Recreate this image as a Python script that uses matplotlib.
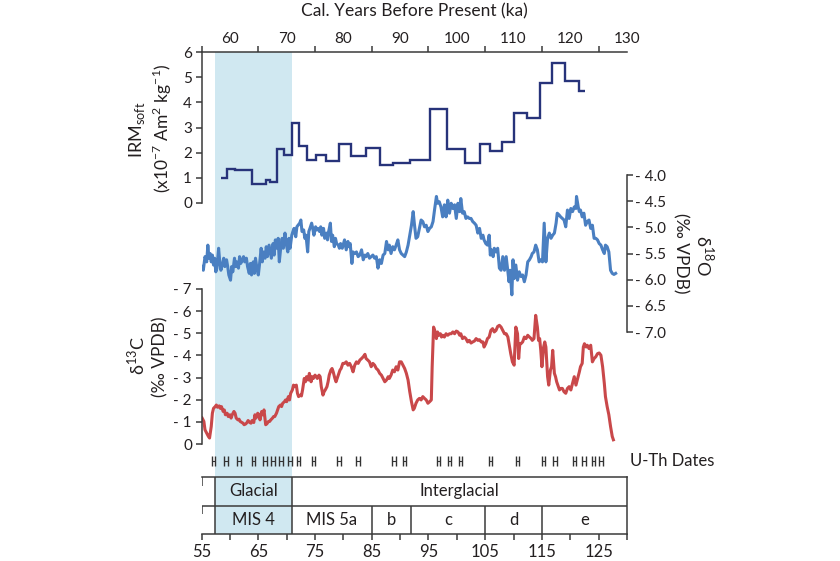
import matplotlib
matplotlib.use("Agg")
import matplotlib.pyplot as plt

plt.rcParams["font.family"] = ["Lato", "DejaVu Sans"]
plt.rcParams["mathtext.fontset"] = "custom"
plt.rcParams["mathtext.rm"] = "Lato"

TEXT = "#231f20"
AXIS = "#3a3a3a"
SHADE = "#d0e8f1"
NAVY = "#27337a"
BLUE = "#4a7fc1"
RED = "#c9484a"

# glacial shading (ka)
GLACIAL = (57.4, 70.9)

# IRM soft, step series: bin edges (ka) and values (x10^-7 Am2 kg-1)
IRM_EDGES = [58.5, 59.5, 60.9, 62.4, 63.9, 66.3, 67.0, 68.3, 69.6, 70.9, 72.1,
             73.5, 75.1, 77.0, 79.2, 81.4, 83.9, 86.5, 88.8, 91.8, 95.2, 98.3,
             101.5, 104.0, 105.8, 107.9, 110.0, 112.3, 114.6, 116.7, 119.1,
             121.6, 122.6]
IRM_VALUES = [1.01, 1.37, 1.33, 1.30, 0.77, 0.90, 0.84, 2.16, 1.90, 3.17, 2.26,
              1.70, 1.89, 1.65, 2.34, 1.85, 2.17, 1.52, 1.57, 1.72, 3.72, 2.13,
              1.58, 2.33, 2.06, 2.42, 3.57, 3.39, 4.76, 5.56, 4.83, 4.47]

# d18O (permil VPDB)
D18O_AGE = [55.0, 55.3, 55.6, 55.9, 56.1, 56.3, 56.5, 56.7, 56.9, 57.1, 57.3,
            57.5, 57.7, 58.0, 58.2, 58.4, 58.7, 58.9, 59.1, 59.4, 59.6, 59.8,
            60.1, 60.3, 60.5, 60.8, 61.0, 61.2, 61.5, 61.7, 61.9, 62.2, 62.4,
            62.6, 62.9, 63.1, 63.4, 63.6, 63.8, 64.1, 64.3, 64.5, 64.8, 65.0,
            65.2, 65.5, 65.7, 65.9, 66.2, 66.4, 66.6, 66.9, 67.1, 67.3, 67.6,
            67.8, 68.0, 68.3, 68.5, 68.7, 69.0, 69.2, 69.4, 69.7, 69.9, 70.2,
            70.4, 70.6, 70.9, 71.1, 71.3, 71.6, 71.8, 72.0, 72.3, 72.5, 72.7,
            73.0, 73.2, 73.4, 73.7, 73.9, 74.1, 74.4, 74.6, 74.8, 75.1, 75.3,
            75.5, 75.8, 76.0, 76.2, 76.5, 76.7, 77.0, 77.2, 77.4, 77.7, 77.9,
            78.1, 78.4, 78.6, 78.8, 79.1, 79.3, 79.5, 79.8,
            80.2, 80.5, 80.8, 81.0, 81.2, 81.5, 81.7, 82.0, 82.3, 82.6, 82.9,
            83.2, 83.5, 83.8, 84.0, 84.3, 84.6, 84.9, 85.2, 85.5, 85.8, 86.1,
            86.4, 86.7, 87.0, 87.3, 87.6, 87.9, 88.1, 88.4, 88.7, 89.0, 89.3,
            89.6, 89.9, 90.2, 90.5, 90.8, 91.1, 91.4, 91.7, 92.0, 92.3, 92.5,
            92.8, 93.1, 93.4, 93.7, 94.0, 94.3, 94.6, 94.9, 95.2, 95.5, 95.8,
            96.1, 96.4, 96.6, 96.9, 97.2, 97.5, 97.8, 98.1, 98.4, 98.7, 99.0,
            99.3, 99.6, 99.9, 100.2, 100.5, 100.7, 101.0, 101.3, 101.6, 101.9,
            102.2, 102.5, 102.8, 103.1, 103.4, 103.7, 104.0, 104.3, 104.6,
            104.8, 105.1, 105.4,
            105.7, 105.9, 106.1, 106.4, 106.6, 106.9, 107.2, 107.5, 107.8,
            108.1, 108.4, 108.7, 109.0, 109.2, 109.4, 109.7, 109.9, 110.1,
            110.4, 110.7, 111.0, 111.3, 111.6, 111.9, 112.2, 112.5, 112.8,
            113.1, 113.3, 113.6, 113.9, 114.2, 114.5, 114.8, 115.1, 115.4,
            115.7, 116.0, 116.3, 116.6, 116.9, 117.2, 117.5, 117.7, 118.0,
            118.3, 118.6, 118.9, 119.2, 119.5, 119.8, 120.1, 120.4, 120.7,
            121.0, 121.1, 121.4, 121.6, 121.8, 122.1, 122.4, 122.7, 123.0,
            123.3, 123.6, 123.9, 124.2, 124.5, 124.8, 125.1, 125.4, 125.7,
            126.0, 126.2, 126.5, 126.8, 127.1, 127.4, 127.7, 128.0]
D18O = [-5.75, -5.82, -5.56, -5.66, -5.34, -5.59, -5.50, -5.66, -5.53, -5.72, -5.59,
        -5.85, -5.78, -5.40, -5.66, -5.82, -5.69, -5.59, -5.75, -5.62, -5.75, -5.91,
        -6.01, -5.75, -5.85, -5.59, -5.75, -5.66, -5.78, -5.56, -5.69, -5.62, -5.56,
        -5.66, -5.59, -5.75, -5.88, -5.69, -5.91, -5.66, -5.88, -5.59, -5.82, -5.91,
        -5.72, -5.40, -5.66, -5.47, -5.59, -5.37, -5.56, -5.34, -5.47, -5.59, -5.31,
        -5.53, -5.24, -5.40, -5.21, -5.66, -5.34, -5.21, -5.40, -5.11, -5.31, -5.47,
        -5.21, -5.40, -5.15, -5.08, -5.02, -5.18, -4.99, -4.96, -4.92, -4.86, -5.08,
        -5.05, -5.21, -5.15, -5.47, -5.08, -5.02, -4.92, -5.02, -5.15, -4.99, -5.05,
        -5.02, -5.08, -4.99, -5.15, -5.02, -5.21, -5.11, -5.24, -5.08, -4.92, -5.27,
        -5.15, -5.37, -5.21, -5.31, -5.34, -5.40, -5.31, -5.40,
        -5.24, -5.43, -5.27, -5.37, -5.31, -5.69, -5.47, -5.50, -5.47, -5.56, -5.53,
        -5.43, -5.62, -5.53, -5.56, -5.50, -5.59, -5.56, -5.53, -5.59, -5.56, -5.78,
        -5.62, -5.69, -5.53, -5.50, -5.27, -5.43, -5.34, -5.50, -5.37, -5.43, -5.34,
        -5.24, -5.43, -5.50, -5.53, -5.56, -5.47, -5.34, -5.15, -4.96, -4.70, -4.92,
        -5.21, -5.18, -5.02, -4.86, -4.89, -4.99, -4.96, -5.08, -5.02, -4.99, -4.89,
        -4.64, -4.41, -4.54, -4.51, -4.61, -4.80, -4.57, -4.80, -4.48, -4.73, -4.54,
        -4.64, -4.57, -4.83, -4.54, -4.70, -4.45, -4.73, -4.70, -4.83, -4.80,
        -4.83, -4.83, -4.89, -4.92, -4.96, -5.11, -5.02, -5.21, -5.15,
        -5.24, -5.31, -5.34,
        -5.15, -5.53, -5.43, -5.56, -5.40, -5.47, -5.40, -5.78, -5.82,
        -5.56, -5.82, -5.56, -5.85, -6.04, -5.82, -6.29, -5.62, -5.98,
        -5.72, -6.01, -5.85, -5.94, -5.91, -6.04, -5.91, -5.66, -5.62,
        -5.56, -5.50, -5.47, -5.34, -5.43, -5.66, -5.62, -5.66, -4.92,
        -5.66, -5.21, -5.11, -5.21, -5.15, -5.11, -4.92, -4.73, -4.76,
        -4.80, -4.83, -4.86, -4.99, -4.67, -4.83, -4.64, -4.70, -4.61,
        -4.64, -4.41, -4.61, -4.70, -4.67, -4.80, -4.73, -4.96, -4.89,
        -4.86, -5.02, -4.96, -5.21, -5.21, -5.24, -5.31, -5.34, -5.43,
        -5.50, -5.34, -5.37, -5.47, -5.82, -5.88, -5.90, -5.88]

# d13C (permil VPDB)
D13C_AGE = [55.1, 55.4, 55.6, 55.9, 56.2, 56.4, 56.7, 56.9, 57.1, 57.4, 57.6,
            57.8, 58.1, 58.3, 58.5, 58.8, 59.0, 59.2, 59.5, 59.7, 60.0, 60.2,
            60.4, 60.7, 60.9, 61.1, 61.4, 61.6, 61.8, 62.1, 62.3, 62.5, 62.8,
            63.0, 63.2, 63.5, 63.7, 63.9, 64.2, 64.4, 64.6, 64.9, 65.1, 65.3,
            65.6, 65.8, 66.0, 66.3, 66.5, 66.8, 67.0, 67.2, 67.5, 67.7, 67.9,
            68.2, 68.4, 68.6, 68.9, 69.1, 69.3, 69.6, 69.8, 70.0, 70.3, 70.5,
            70.7, 71.0, 71.2, 71.4, 71.7, 71.9, 72.1, 72.4, 72.6, 72.8, 73.1,
            73.3, 73.5, 73.8, 74.0, 74.3, 74.5, 74.7, 75.0, 75.2, 75.4, 75.7,
            75.9, 76.1, 76.4, 76.6, 76.8, 77.1, 77.3, 77.5, 77.8, 78.0, 78.2,
            78.5, 78.7, 79.0, 79.2, 79.4, 79.6, 79.9,
            80.2, 80.5, 80.8, 81.1, 81.4, 81.7, 82.0, 82.3, 82.6, 82.9, 83.2,
            83.5, 83.8, 84.0, 84.3, 84.6, 84.9, 85.2, 85.5, 85.8, 86.1, 86.4,
            86.7, 87.0, 87.3, 87.6, 87.9, 88.1, 88.4, 88.7, 89.0, 89.3, 89.6,
            89.9, 90.2, 90.5, 90.8, 91.1, 91.4, 91.7, 92.0, 92.3, 92.5, 92.8,
            93.1, 93.4, 93.7, 94.0, 94.3, 94.6, 94.9, 95.2, 95.5, 95.65, 95.9,
            96.1, 96.4, 96.6, 96.8, 97.1, 97.3, 97.5, 97.8, 98.1, 98.4, 98.7,
            99.0, 99.3, 99.6, 99.9, 100.2, 100.5, 100.7, 101.0, 101.3, 101.6,
            101.9, 102.2, 102.5, 102.8, 103.1, 103.4, 103.7, 104.0, 104.3,
            104.6, 104.8, 105.1, 105.4, 105.7,
            106.0, 106.3, 106.6, 106.9, 107.2, 107.5, 107.8, 108.1, 108.4,
            108.7, 109.0, 109.2, 109.5, 109.8, 110.1, 110.4, 110.7, 110.9,
            111.1, 111.3, 111.6, 111.9, 112.2, 112.5, 112.8, 113.1, 113.3,
            113.6, 113.9, 114.2, 114.4, 114.6, 114.8, 115.0, 115.3, 115.5,
            115.7, 116.0, 116.2, 116.5, 116.7, 116.9, 117.2, 117.4, 117.6,
            117.9, 118.1, 118.3, 118.6, 118.9, 119.2, 119.5, 119.8, 120.1,
            120.4, 120.7, 121.0, 121.3, 121.6, 121.8, 122.1, 122.3, 122.5,
            122.8, 123.0, 123.3, 123.6, 123.9, 124.2, 124.5, 124.8, 125.1,
            125.4, 125.7, 126.0, 126.2, 126.5, 126.8, 127.1, 127.4, 127.6]
D13C = [-1.17, -1.02, -0.64, -0.49, -0.34, -0.27, -0.79, -1.39, -1.61, -1.69, -1.76,
        -1.66, -1.72, -1.61, -1.69, -1.47, -1.54, -1.32, -1.39, -1.24, -1.32, -1.17,
        -1.32, -1.47, -1.39, -1.17, -1.09, -1.12, -1.02, -0.97, -0.94, -0.87, -0.91,
        -0.97, -1.06, -0.97, -0.94, -1.06, -0.97, -1.32, -1.17, -1.39, -1.32, -1.09,
        -1.47, -1.32, -1.54, -0.87, -0.91, -1.02, -1.02, -1.09, -1.17, -1.24, -1.24,
        -1.39, -1.54, -1.69, -1.76, -1.69, -1.84, -1.91, -1.99, -1.91, -2.14, -1.99,
        -2.29, -2.44, -2.66, -2.59, -2.66, -2.29, -2.14, -2.21, -2.17, -2.44, -2.96,
        -2.81, -3.04, -2.89, -3.19, -2.81, -3.04, -2.96, -3.11, -3.04, -2.96, -3.11,
        -3.04, -2.59, -2.21, -2.36, -2.44, -2.59, -2.81, -3.11, -3.34, -3.41, -3.26,
        -2.96, -2.81, -3.04, -3.19, -3.34, -3.41, -3.64,
        -3.64, -3.71, -3.56, -3.64, -3.49, -3.26, -3.56, -3.71, -3.64, -3.79, -3.86,
        -3.94, -4.05, -3.86, -3.79, -3.71, -3.49, -3.64, -3.56, -3.41, -3.34, -3.19,
        -3.11, -2.96, -2.81, -2.89, -3.04, -2.96, -3.11, -3.34, -3.26, -3.49, -3.34,
        -3.71, -3.71, -3.56, -3.41, -3.19, -2.89, -2.36, -1.91, -1.54, -1.61, -1.84,
        -1.99, -2.06, -1.99, -2.14, -2.06, -1.99, -1.84, -1.91, -1.99, -3.49, -5.28,
        -5.13, -4.76, -5.06, -4.91, -4.98, -4.83, -4.91, -4.83, -4.98, -4.91, -4.98,
        -4.98, -5.06, -4.98, -5.10, -5.06, -4.91, -4.98, -4.76, -4.83, -4.76,
        -4.61, -4.68, -4.56, -4.61, -4.65, -4.76, -4.68, -4.71, -4.61,
        -4.61, -4.38, -4.53, -4.76, -4.83,
        -5.13, -5.21, -5.06, -5.13, -5.31, -5.36, -5.28, -5.13, -4.98,
        -4.98, -4.83, -4.53, -4.08, -3.71, -3.56, -5.28, -4.98, -3.86,
        -4.53, -4.53, -4.61, -4.83, -4.76, -4.91, -4.83, -4.76, -4.68,
        -4.76, -5.81, -5.28, -4.68, -4.76, -4.23, -3.49, -4.38, -4.61,
        -4.38, -3.04, -2.66, -3.34, -3.49, -4.23, -3.19, -3.04, -2.81,
        -2.59, -2.44, -2.51, -2.51, -2.36, -2.29, -2.51, -2.59, -2.44,
        -2.74, -3.04, -2.66, -2.96, -3.26, -3.49, -3.64, -4.38, -4.53,
        -4.38, -4.46, -4.31, -4.46, -3.71, -3.86, -3.94, -4.08, -4.11,
        -4.01, -3.49, -2.74, -2.14, -1.69, -1.32, -0.79, -0.34, -0.19]

# U-Th dated horizons (ka)
UTH_AGES = [57.1, 59.3, 61.6, 64.1, 66.2, 67.6, 69.0, 70.6, 72.1, 74.7, 79.2,
            82.6, 88.9, 90.8, 96.8, 98.7, 100.6, 105.9, 110.7, 115.3, 117.3,
            120.7, 122.4, 124.1, 125.4]

# stage table
STAGE_TOP = [("Glacial", 57.4, 70.9), ("Interglacial", 70.9, 130.0)]
STAGE_BOTTOM = [("MIS 4", 57.4, 70.9), ("MIS 5a", 70.9, 85.0), ("b", 85.0, 92.0),
                ("c", 92.0, 105.0), ("d", 105.0, 115.0), ("e", 115.0, 130.0)]

W, H = 840, 561
X0, X1 = 201.6, 627.0
XLIM = (55, 130)


def box(x0, y0, x1, y1):
    return [x0 / W, 1 - y1 / H, (x1 - x0) / W, (y1 - y0) / H]


def only_spines(ax, keep):
    for name, sp in ax.spines.items():
        sp.set_visible(name in keep)
        sp.set_color(AXIS)
        sp.set_linewidth(1.1)


fig = plt.figure(figsize=(W / 100, H / 100), dpi=100)
fig.patch.set_facecolor("white")

# background shading spanning all panels
bg = fig.add_axes(box(X0, 52, X1, 534))
bg.axvspan(*GLACIAL, color=SHADE, lw=0)
bg.set_xlim(*XLIM)
bg.axis("off")

# IRM panel
ax_irm = fig.add_axes(box(X0, 52, X1, 203), facecolor="none")
ax_irm.stairs(IRM_VALUES, IRM_EDGES, baseline=None, color=NAVY, lw=1.7)
ax_irm.set_xlim(*XLIM)
ax_irm.set_ylim(0, 6)
only_spines(ax_irm, ["left", "top"])
ax_irm.xaxis.tick_top()
ax_irm.set_xticks(range(60, 131, 10))
ax_irm.set_xticks(range(55, 126, 10), minor=True)
ax_irm.tick_params(axis="x", which="major", length=0, pad=4, labelsize=11, colors=TEXT)
ax_irm.tick_params(axis="x", which="minor", length=4, width=1.1, color=AXIS, direction="out")
ax_irm.set_yticks(range(0, 7))
ax_irm.tick_params(axis="y", length=4, width=1.1, color=AXIS, pad=3, labelsize=11, labelcolor=TEXT)

# d18O panel
ax_o = fig.add_axes(box(X0, 175, X1, 332), facecolor="none")
ax_o.plot(D18O_AGE, D18O, color=BLUE, lw=2.2, solid_joinstyle="round")
ax_o.set_xlim(*XLIM)
ax_o.set_ylim(-7, -4)
only_spines(ax_o, ["right"])
ax_o.set_xticks([])
ax_o.yaxis.tick_right()
o_ticks = [-7.0, -6.5, -6.0, -5.5, -5.0, -4.5, -4.0]
ax_o.set_yticks(o_ticks)
ax_o.set_yticklabels([f"- {abs(t):.1f}" for t in o_ticks])
ax_o.tick_params(axis="y", length=4, width=1.1, color=AXIS, pad=2, labelsize=11, labelcolor=TEXT)

# d13C panel
ax_c = fig.add_axes(box(X0, 289, X1, 444), facecolor="none")
ax_c.plot(D13C_AGE, D13C, color=RED, lw=2.2, solid_joinstyle="round")
ax_c.set_xlim(*XLIM)
ax_c.set_ylim(0, -7)
only_spines(ax_c, ["left"])
ax_c.set_xticks([])
c_ticks = list(range(0, -8, -1))
ax_c.set_yticks(c_ticks)
ax_c.set_yticklabels(["0"] + [f"- {abs(t)}" for t in c_ticks[1:]])
ax_c.tick_params(axis="y", length=4, width=1.1, color=AXIS, pad=3, labelsize=11, labelcolor=TEXT)

# U-Th dates
ax_u = fig.add_axes(box(X0, 452, X1, 470), facecolor="none")
ax_u.errorbar(UTH_AGES, [0.5] * len(UTH_AGES), xerr=0.3, fmt="none",
              ecolor="#333333", elinewidth=0.8, capsize=3.5, capthick=1.0)
ax_u.set_xlim(*XLIM)
ax_u.set_ylim(0, 1)
ax_u.axis("off")
fig.text(630 / W, 1 - 461 / H, "U-Th Dates", ha="left", va="center", fontsize=12, color=TEXT)

# stage table with bottom age axis
ax_t = fig.add_axes(box(X0, 477, X1, 534), facecolor="none")
ax_t.set_xlim(*XLIM)
ax_t.set_ylim(0, 2)
only_spines(ax_t, ["top", "bottom", "right"])
ax_t.hlines(1, XLIM[0], XLIM[1], color=AXIS, lw=1.1)
ax_t.vlines([GLACIAL[0], GLACIAL[1]], 0, 2, color=AXIS, lw=1.1)
ax_t.vlines([s[1] for s in STAGE_BOTTOM[2:]], 0, 1, color=AXIS, lw=1.1)
ax_t.vlines([XLIM[0], XLIM[0]], [1.7, 0.7], [2, 1], color=AXIS, lw=1.1)
for name, a, b in STAGE_TOP:
    ax_t.text((a + b) / 2, 1.5, name, ha="center", va="center", fontsize=12, color=TEXT)
for name, a, b in STAGE_BOTTOM:
    ax_t.text((a + b) / 2, 0.5, name, ha="center", va="center", fontsize=12, color=TEXT)
ax_t.set_yticks([])
ax_t.set_xticks(range(55, 126, 10))
ax_t.set_xticks(range(60, 131, 10), minor=True)
ax_t.tick_params(axis="x", which="both", length=4, width=1.1, color=AXIS, direction="out")
ax_t.tick_params(axis="x", which="major", pad=3, labelsize=12, labelcolor=TEXT)

# titles and axis labels
fig.text(414 / W, 1 - 11 / H, "Cal. Years Before Present (ka)", ha="center", va="center",
         fontsize=12.5, color=TEXT)
fig.text(137 / W, 1 - 130 / H, r"IRM$_{\mathregular{soft}}$", rotation=90,
         ha="center", va="center", fontsize=13, color=TEXT)
fig.text(162 / W, 1 - 128 / H,
         r"(x10$^{\mathregular{-7}}$ Am$^{\mathregular{2}}$ kg$^{\mathregular{-1}}$)",
         rotation=90, ha="center", va="center", fontsize=12.5, color=TEXT)
fig.text(136 / W, 1 - 356 / H, r"δ$^{\mathregular{13}}$C", rotation=90,
         ha="center", va="center", fontsize=13, color=TEXT)
fig.text(160 / W, 1 - 357 / H, "(‰ VPDB)", rotation=90,
         ha="center", va="center", fontsize=12.5, color=TEXT)
fig.text(705 / W, 1 - 255 / H, r"δ$^{\mathregular{18}}$O", rotation=270,
         ha="center", va="center", fontsize=13, color=TEXT)
fig.text(681 / W, 1 - 253 / H, "(‰ VPDB)", rotation=270,
         ha="center", va="center", fontsize=12.5, color=TEXT)

fig.savefig("out.png", dpi=100)
